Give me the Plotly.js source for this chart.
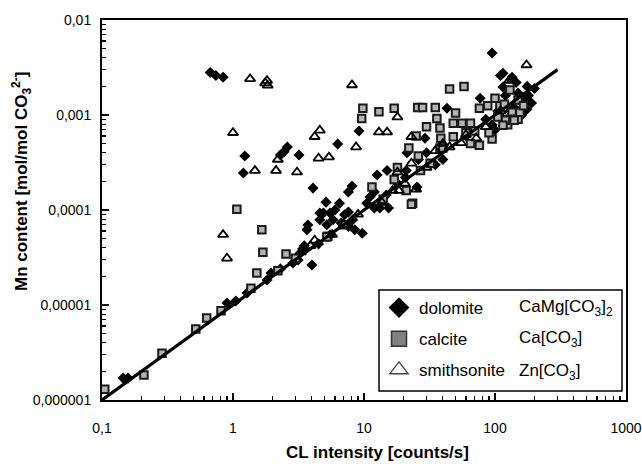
<!DOCTYPE html>
<html>
<head>
<meta charset="utf-8">
<script src="https://cdn.plot.ly/plotly-3.0.1.min.js"></script>
<style>html,body{margin:0;padding:0;background:#fff}#chart{width:642px;height:464px}</style>
</head>
<body>
<div id="chart"></div>
<script>
// ---- data ----
var dolomiteX = [0.145,0.158,0.67,0.74,0.84,0.9,1.23,1.2,1.28,1.82,1.95,2.3,2.45,2.6,3.19,3.14,4.0,3.73,4.08,5.13,5.5,4.6,5.2,3.67,3.25,2.87,2.3,9.16,6.3,29.2,21.3,12.6,8.1,7.6,6.5,7.1,8.2,9.7,13.2,15.4,11.1,14.8,20.7,25.4,40,43,77,115,176,163,109,95,95,110,135,190,115,6.0,4.5,5.5,18,35,60,85,130,150,200,3.4,3.5,1.05,
  4.9,5.8,6.7,7.6,8.5,4.6,7.6,10.5,12,18,21,26,30,15,12,120,140,160,175,125,100,105,180,145];
var dolomiteY = [1.7e-6,1.7e-6,2.8e-3,2.6e-3,2.5e-3,1.05e-5,3.7e-4,2.45e-4,1.34e-5,1.83e-5,2.17e-5,3.8e-4,4.1e-4,4.6e-4,3.8e-4,2.97e-5,2.64e-5,6.95e-5,1.7e-4,1.21e-4,9.3e-5,9.3e-5,7.0e-5,6.2e-5,3.5e-5,2.77e-5,2.4e-5,6.8e-4,4.95e-4,5.7e-4,4.0e-4,2.34e-4,1.79e-4,1.55e-4,1.18e-4,8.9e-5,7.9e-5,5.7e-5,1.05e-4,1.05e-4,1.37e-4,1.44e-4,2.2e-4,1.75e-4,3.4e-4,1.18e-3,1.5e-3,1.97e-3,2.0e-3,1.44e-3,9.8e-4,7.9e-4,4.5e-3,2.6e-3,2.5e-3,1.34e-3,2.75e-3,1.0e-4,4.4e-5,5.5e-5,1.9e-4,3.0e-4,6.0e-4,9.0e-4,1.1e-3,1.7e-3,1.9e-3,3.9e-5,4.2e-5,1.1e-5,
  9.3e-5,7.9e-5,7.3e-5,6.7e-5,6.2e-5,7.9e-5,9.5e-5,1.18e-4,1.55e-4,1.9e-4,2.6e-4,3.4e-4,4.0e-4,2.6e-4,1.05e-4,1.6e-3,1.2e-3,1.0e-3,1.15e-3,8.5e-4,7.0e-4,1.1e-3,1.6e-3,2.2e-3];

var calciteX = [0.105,0.209,0.287,0.52,0.63,0.81,1.37,1.52,1.07,1.66,1.69,2.54,5.3,9.6,9.8,13,17,25.7,28,35,36,38,38.6,45,58,48,56,65,76,88,109,130,135,130,150,125,95,76,38,48,150,155,120,140,115,11.5,17,21,23.5,32,40,5.2,23,27,2.2,3.0,7.0,65,
  100,118,165,105,90,70,60,50,30,25,22,26,18,14];
var calciteY = [1.3e-6,1.83e-6,3.1e-6,5.6e-6,7.3e-6,8.7e-6,1.5e-5,2.17e-5,1.02e-4,6.2e-5,3.6e-5,3.45e-5,5.3e-5,9.2e-4,1.18e-3,1.08e-3,1.18e-3,1.2e-3,1.2e-3,1.2e-3,9.2e-4,7.3e-4,5.7e-4,1.88e-3,2.0e-3,8.2e-4,8.2e-4,8.2e-4,1.18e-3,1.25e-3,1.25e-3,1.83e-3,1.07e-3,9.0e-4,9.0e-4,7.9e-4,5.6e-4,4.8e-4,4.5e-4,5.9e-4,1.44e-3,1.07e-3,8.8e-4,8.8e-4,7.8e-4,1.75e-4,2.1e-4,1.6e-4,1.18e-4,3.1e-4,4.5e-4,5.2e-5,1.15e-4,2.6e-4,2.3e-5,3.1e-5,7.0e-5,5.0e-4,
  1.5e-3,1.3e-3,1.25e-3,9.5e-4,6.5e-4,6.8e-4,6.5e-4,1.05e-3,7.5e-4,6.0e-4,4.5e-4,3.7e-4,2.8e-4,1.3e-4];

var smithsoniteX = [1.35,1.76,1.82,1.84,1.0,1.47,2.13,2.2,3.08,4.2,4.5,4.6,5.4,0.84,0.9,8.1,18,13,15,23,8.7,174,135,18,23,20.5,16.5,18.5,25,13.7,72,55,30,128,45,
  110,85,60,40,35,9,7,5.7,3.9,3.3,4.2];
var smithsoniteY = [2.4e-3,2.17e-3,2.3e-3,2.05e-3,6.5e-4,2.6e-4,2.6e-4,3.4e-4,2.5e-4,5.9e-4,3.5e-4,6.9e-4,3.6e-4,5.5e-5,3.1e-5,2.07e-3,9.5e-4,6.6e-4,6.6e-4,5.9e-4,4.6e-4,3.36e-3,2.4e-3,2.5e-4,3.1e-4,1.9e-4,1.6e-4,1.6e-4,1.65e-4,1.2e-4,5.7e-4,5.1e-4,2.8e-4,2.3e-3,4.6e-4,
  1.1e-3,7.5e-4,6.2e-4,5.0e-4,4.2e-4,9.0e-5,7.0e-5,5.5e-5,4.2e-5,3.6e-5,4.8e-5];

var fitX = [0.1, 300];
var fitY = [1e-6, 3e-3];

var xTickVals = [0.1, 1, 10, 100, 1000];
var xTickText = ['0,1', '1', '10', '100', '1000'];
var yTickVals = [1e-6, 1e-5, 1e-4, 1e-3, 1e-2];
var yTickText = ['0,000001', '0,00001', '0,0001', '0,001', '0,01'];

var seriesNames = ['dolomite', 'calcite', 'smithsonite'];
var formulas = ['CaMg[CO<sub>3</sub>]<sub>2</sub>', 'Ca[CO<sub>3</sub>]', 'Zn[CO<sub>3</sub>]'];

// ---- chart ----
var FONT = 'Liberation Sans, Arial, Helvetica, sans-serif';
var diamondStyle = {symbol: 'diamond', color: '#000', size: 8.5, line: {width: 0}};
var squareStyle = {symbol: 'square', color: '#b4b4b4', size: 7.5, line: {color: '#1a1a1a', width: 2}};
var triStyle = {symbol: 'triangle-up-open', color: '#000', size: 9, line: {color: '#000', width: 1.8}};

var traces = [
  {x: dolomiteX, y: dolomiteY, type: 'scatter', mode: 'markers', marker: diamondStyle, showlegend: false},
  {x: calciteX, y: calciteY, type: 'scatter', mode: 'markers', marker: squareStyle, showlegend: false},
  {x: smithsoniteX, y: smithsoniteY, type: 'scatter', mode: 'markers', marker: triStyle, showlegend: false},
  {x: fitX, y: fitY, type: 'scatter', mode: 'lines', line: {color: '#000', width: 3.2}, showlegend: false},
  // legend entries
  {x: [null], y: [null], type: 'scatter', mode: 'markers', name: seriesNames[0], legendgroup: 'a',
   marker: {symbol: 'diamond', color: '#000', size: 16, line: {width: 0}}},
  {x: [null], y: [null], type: 'scatter', mode: 'markers', name: seriesNames[1], legendgroup: 'b',
   marker: {symbol: 'square', color: '#808080', size: 15, line: {color: '#333', width: 1.5}}},
  {x: [null], y: [null], type: 'scatter', mode: 'markers', name: seriesNames[2], legendgroup: 'c',
   marker: {symbol: 'triangle-up-open', color: '#444', size: 16, line: {color: '#444', width: 1.3}}}
];

var L = 102, R = 626, T = 20, B = 400, W = 642, H = 464;
function px(xp) { return (xp - L) / (R - L); }
function py(yp) { return (B - yp) / (B - T); }

var annotations = [
  {text: 'CL intensity [counts/s]', xref: 'paper', yref: 'paper', x: px(377), y: py(453), showarrow: false,
   xanchor: 'center', yanchor: 'middle', font: {family: FONT, size: 17, color: '#000', weight: 'bold'}},
  {text: 'Mn content [mol/mol CO<sub>3</sub><sup>2-</sup>]', xref: 'paper', yref: 'paper', x: px(21), y: py(182),
   showarrow: false, textangle: -90, xanchor: 'center', yanchor: 'middle',
   font: {family: FONT, size: 17, color: '#000', weight: 'bold'}}
];
var formulaY = [308, 339, 372];
for (var i = 0; i < formulas.length; i++) {
  annotations.push({text: formulas[i], xref: 'paper', yref: 'paper', x: px(517), y: py(formulaY[i]),
    showarrow: false, xanchor: 'left', yanchor: 'middle', font: {family: FONT, size: 17, color: '#000'}});
}

var layout = {
  width: W, height: H,
  margin: {l: L, r: W - R, t: T, b: H - B, pad: 0},
  paper_bgcolor: '#fff', plot_bgcolor: '#fff',
  font: {family: FONT, size: 14, color: '#000'},
  showlegend: true,
  legend: {x: px(379), y: py(290), xanchor: 'left', yanchor: 'top', bgcolor: 'rgba(0,0,0,0)',
           borderwidth: 0, tracegroupgap: 6, font: {family: FONT, size: 17, color: '#000'}},
  xaxis: {type: 'log', range: [-1, 3], tickvals: xTickVals, ticktext: xTickText,
          showgrid: false, zeroline: false, showline: true, linecolor: '#000', linewidth: 2, mirror: true,
          ticks: 'inside', ticklen: 7, tickwidth: 1.5, tickcolor: '#000', ticklabelstandoff: 14,
          tickfont: {family: FONT, size: 14, color: '#000'},
          minor: {ticks: 'inside', ticklen: 4, tickwidth: 1.2, tickcolor: '#000', dtick: 'D1', showgrid: false}},
  yaxis: {type: 'log', range: [-6, -2], tickvals: yTickVals, ticktext: yTickText,
          showgrid: false, zeroline: false, showline: true, linecolor: '#000', linewidth: 2, mirror: true,
          ticks: 'inside', ticklen: 7, tickwidth: 1.5, tickcolor: '#000', ticklabelstandoff: 6,
          tickfont: {family: FONT, size: 14, color: '#000'},
          minor: {ticks: 'inside', ticklen: 4, tickwidth: 1.2, tickcolor: '#000', dtick: 'D1', showgrid: false}},
  shapes: [{type: 'rect', xref: 'paper', yref: 'paper', x0: px(379), x1: px(622), y0: py(391), y1: py(290),
            line: {color: '#000', width: 1.5}, fillcolor: '#fff', layer: 'above'}],
  annotations: annotations
};

Plotly.newPlot('chart', traces, layout, {staticPlot: true, displayModeBar: false});
</script>
</body>
</html>
